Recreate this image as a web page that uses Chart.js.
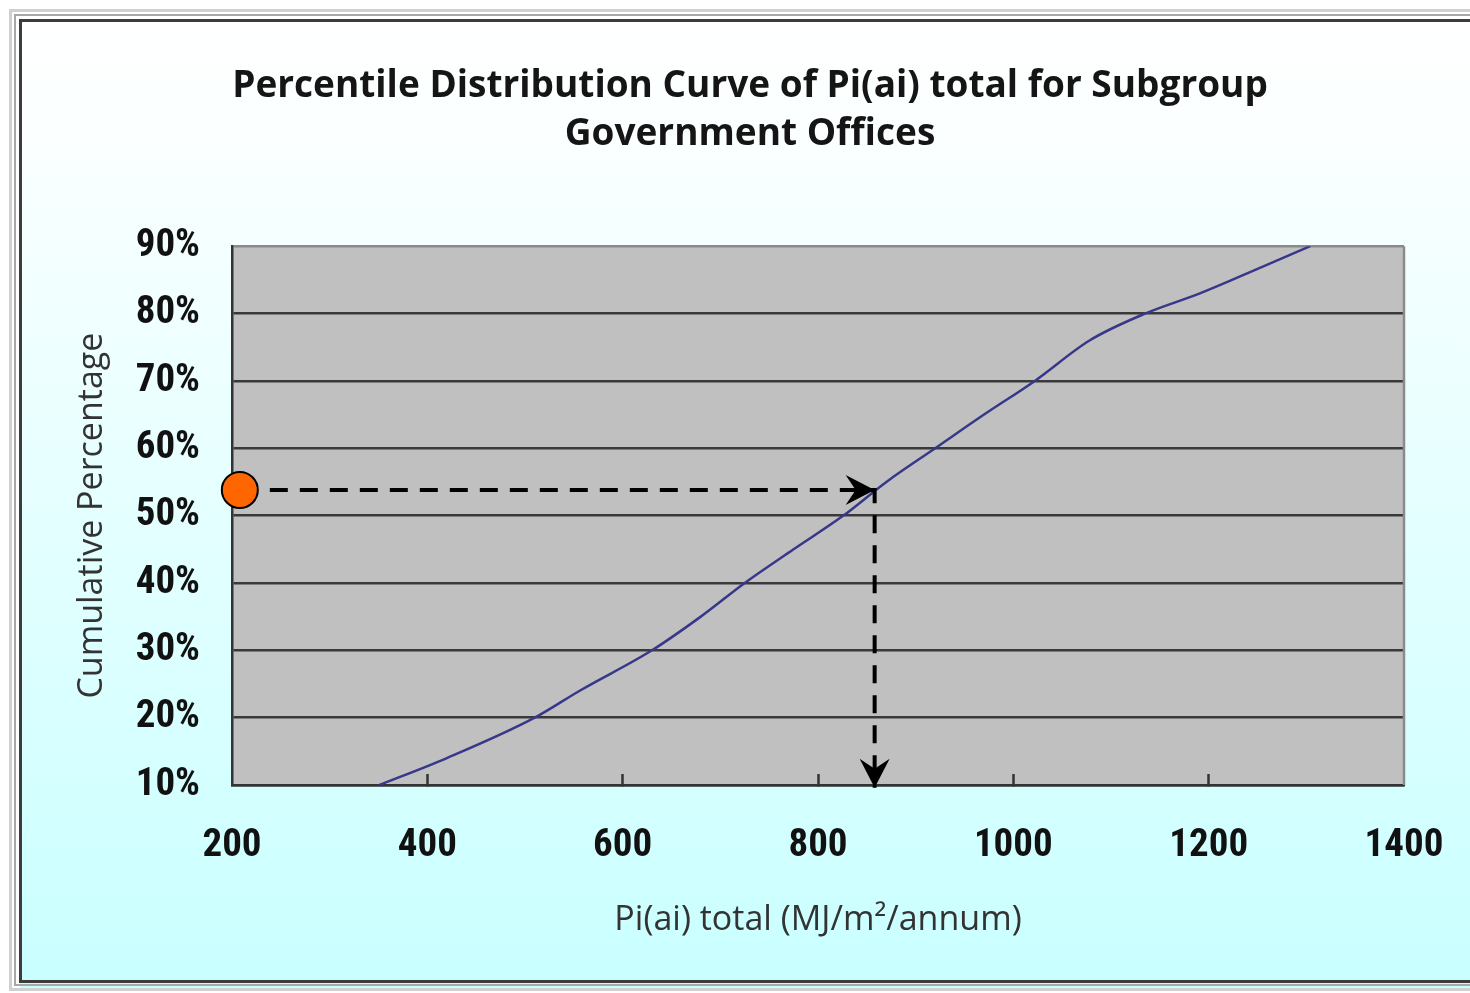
<!DOCTYPE html>
<html>
<head>
<meta charset="utf-8">
<title>Percentile Distribution Curve of Pi(ai) total</title>
<script src="https://cdn.jsdelivr.net/npm/chart.js@4.4.1/dist/chart.umd.min.js"></script>
<style>
  html, body { margin: 0; padding: 0; background: #ffffff; }
  #wrap { position: relative; width: 1470px; height: 993px; }
</style>
</head>
<body>
<div id="wrap"><canvas id="chart" width="1470" height="993"></canvas></div>
<script>
// Cumulative distribution of Pi(ai) total (MJ/m²/annum) for government offices
const piTotal = [351, 420, 510, 556, 630, 680, 725, 775, 826, 870, 920, 970, 1022, 1078, 1135, 1191, 1240, 1304];
const cumulativePct = [10, 14, 20, 24, 30, 35, 40, 45, 50, 55, 60, 65, 70, 76, 80, 83, 86, 90];

// Axis ticks
const xTicks = [200, 400, 600, 800, 1000, 1200, 1400];
const yTicks = [10, 20, 30, 40, 50, 60, 70, 80, 90];

// Worked example: read a percentile across to the curve, then down to the energy value
const guideX = [208, 858, 858];
const guideY = [53.8, 53.8, 9.6];

const titleLines = ['Percentile Distribution Curve of Pi(ai) total for Subgroup', 'Government Offices'];
const xTitle = 'Pi(ai) total (MJ/m²/annum)';
const yTitle = 'Cumulative Percentage';

const curvePoints = piTotal.map((v, i) => ({ x: v, y: cumulativePct[i] }));
const guidePoints = guideX.map((v, i) => ({ x: v, y: guideY[i] }));

const tickFont = { family: "'Liberation Sans Narrow', 'Roboto Condensed', 'Liberation Sans', sans-serif", size: 39, weight: 'bold' };
const axisTitleFont = { family: "'Open Sans', 'DejaVu Sans', sans-serif", size: 34 };

// Window frame, gradient backdrop and grey plot panel
const backdrop = {
  id: 'backdrop',
  beforeDraw(chart) {
    const { ctx, chartArea: a, width, height } = chart;
    ctx.save();
    ctx.fillStyle = '#ffffff';
    ctx.fillRect(0, 0, width, height);
    const g = ctx.createLinearGradient(0, 20, 0, 988);
    g.addColorStop(0, '#ffffff');
    g.addColorStop(0.12, '#fbffff');
    g.addColorStop(1, '#c9ffff');
    ctx.fillStyle = g;
    ctx.fillRect(20, 20, width, 968);
    ctx.lineWidth = 3;
    ctx.strokeStyle = '#d0d0d0';
    ctx.strokeRect(10.5, 10.5, width + 20, height - 14);
    ctx.lineWidth = 2;
    ctx.strokeStyle = '#a8a8a8';
    ctx.strokeRect(15, 15, width + 20, height - 23);
    ctx.lineWidth = 3;
    ctx.strokeStyle = '#3c3c3c';
    ctx.strokeRect(20.5, 20.5, width + 20, height - 32);
    ctx.fillStyle = '#c0c0c0';
    ctx.fillRect(a.left, a.top, a.right - a.left, a.bottom - a.top);
    ctx.restore();
  },
  beforeDatasetsDraw(chart) {
    const { ctx, chartArea: a } = chart;
    ctx.save();
    ctx.strokeStyle = '#8a8a8a';
    ctx.lineWidth = 2.5;
    ctx.beginPath();
    ctx.moveTo(a.right, a.top);
    ctx.lineTo(a.right, a.bottom);
    ctx.stroke();
    ctx.restore();
  }
};

// Notched arrowheads at the ends of the guide path
const arrowheads = {
  id: 'arrowheads',
  afterDatasetsDraw(chart) {
    const pts = chart.getDatasetMeta(1).data;
    const { ctx } = chart;
    const head = (tip, from) => {
      const ang = Math.atan2(tip.y - from.y, tip.x - from.x);
      ctx.save();
      ctx.translate(tip.x, tip.y);
      ctx.rotate(ang);
      ctx.fillStyle = '#000000';
      ctx.beginPath();
      ctx.moveTo(0, 0);
      ctx.lineTo(-29, -15);
      ctx.lineTo(-19, 0);
      ctx.lineTo(-29, 15);
      ctx.closePath();
      ctx.fill();
      ctx.restore();
    };
    head(pts[1], pts[0]);
    head(pts[2], pts[1]);
  }
};

new Chart(document.getElementById('chart'), {
  type: 'line',
  data: {
    datasets: [
      {
        label: 'start',
        data: [guidePoints[0]],
        showLine: false,
        pointRadius: 18,
        pointBackgroundColor: '#ff6600',
        pointBorderColor: '#000000',
        pointBorderWidth: 2,
        clip: false
      },
      {
        label: 'guide',
        data: guidePoints,
        borderColor: '#000000',
        borderWidth: 4,
        borderDash: [18, 12],
        pointRadius: 0,
        tension: 0,
        fill: false,
        clip: false
      },
      {
        label: 'Pi(ai) total',
        data: curvePoints,
        borderColor: '#38388a',
        borderWidth: 2.5,
        pointRadius: 0,
        cubicInterpolationMode: 'monotone',
        fill: false
      }
    ]
  },
  options: {
    responsive: false,
    animation: false,
    events: [],
    layout: { padding: { top: 0, left: 30, right: 0, bottom: 0 } },
    plugins: {
      legend: { display: false },
      tooltip: { enabled: false },
      title: {
        display: true,
        text: titleLines,
        color: '#151515',
        font: { family: "'Open Sans', 'DejaVu Sans', sans-serif", size: 37, weight: 'bold', lineHeight: 1.3 },
        padding: { top: 62, bottom: 88 }
      }
    },
    scales: {
      x: {
        type: 'linear',
        min: 200,
        max: 1400,
        afterBuildTicks(scale) { scale.ticks = xTicks.map(v => ({ value: v })); },
        afterFit(scale) {
          scale.height = 208;
          scale.paddingLeft = 0;
          scale.paddingRight = 66;
        },
        border: { display: true, color: '#333333', width: 2.5 },
        grid: {
          drawOnChartArea: false,
          drawTicks: true,
          tickLength: -11,
          tickWidth: 2.5,
          tickColor: ctx => (ctx.tick && (ctx.tick.value === 200 || ctx.tick.value === 1400)) ? 'rgba(0,0,0,0)' : '#333333'
        },
        ticks: {
          color: '#111111',
          font: tickFont,
          padding: 49,
          maxRotation: 0,
          callback: v => String(v)
        },
        title: {
          display: true,
          text: xTitle,
          color: '#333333',
          font: axisTitleFont,
          padding: { top: 0, bottom: 52 }
        }
      },
      y: {
        type: 'linear',
        min: 10,
        max: 90,
        afterBuildTicks(scale) { scale.ticks = yTicks.map(v => ({ value: v })); },
        afterFit(scale) { scale.width = 202; },
        border: { display: true, color: '#333333', width: 2.5 },
        grid: {
          drawTicks: false,
          lineWidth: 2.5,
          color: ctx => (ctx.tick && ctx.tick.value === 90) ? '#8a8a8a' : '#3a3a3a'
        },
        ticks: {
          color: '#111111',
          font: tickFont,
          padding: 32,
          callback: v => v + '%'
        },
        title: {
          display: true,
          text: yTitle,
          color: '#333333',
          font: axisTitleFont,
          padding: { top: 42, bottom: 0 }
        }
      }
    }
  },
  plugins: [backdrop, arrowheads]
});
</script>
</body>
</html>
